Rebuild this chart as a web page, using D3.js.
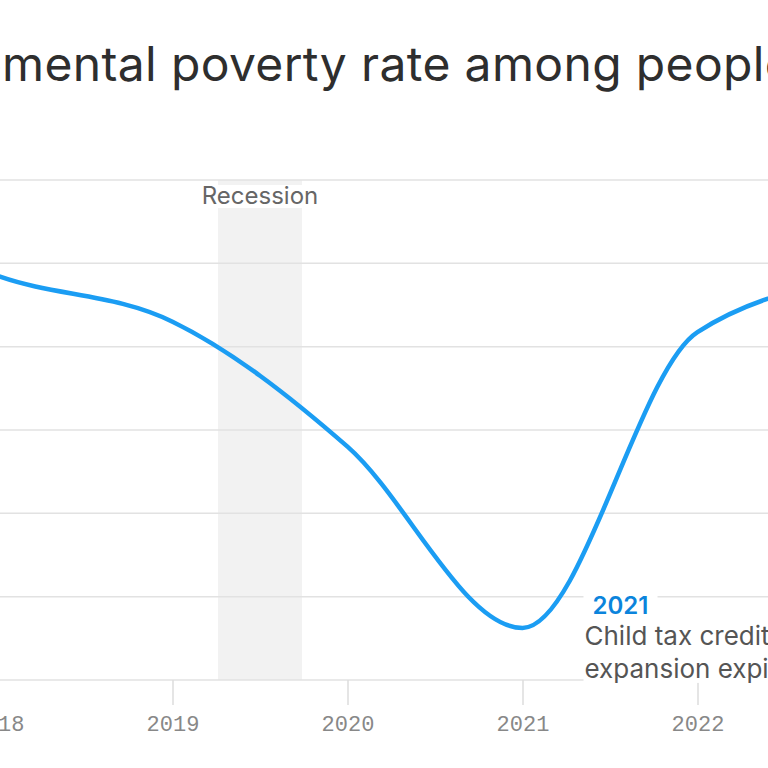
<!DOCTYPE html>
<html>
<head>
<meta charset="utf-8">
<script src="https://cdn.jsdelivr.net/npm/d3@7"></script>
<style>
    body { margin: 0; background: #fff; }
    svg { display: block; }
</style>
</head>
<body>
<script>
(function(){

    //chart data
    var years = [2017, 2018, 2019, 2020, 2021, 2022, 2023];
    var povertyRate = [15.6, 13.7, 12.6, 9.6, 5.25, 12.35, 13.7];
    var tickYears = [2018, 2019, 2020, 2021, 2022, 2023];
    var gridValues = [4, 6, 8, 10, 12, 14, 16];
    var recession = [2019.26, 2019.74];
    var titleText = "Supplemental poverty rate among people under 18";
    var noteYear = "2021";
    var noteLines = ["Child tax credit", "expansion expired"];

    var width = 768,
        height = 768;

    var svg = d3.select("body")
        .append("svg")
        .attr("width", width)
        .attr("height", height);

    //scales (the picture is a crop, so 2018 sits just off the left edge)
    var x = d3.scaleLinear()
        .domain([2018, 2023])
        .range([-2.5, 872.5]);

    var y = d3.scaleLinear()
        .domain([4, 16])
        .range([680, 180]);

    var sans = "Inter, Roboto, 'Liberation Sans', Arial, sans-serif";

    //title, squeezed a little and shifted so only the middle part shows
    var title = svg.append("text")
        .attr("y", 81)
        .attr("font-family", sans)
        .attr("font-size", 48)
        .attr("fill", "#2e2e2e")
        .text("mental poverty rate among");
    var baseW = title.node().getComputedTextLength();
    var spacing = (620 - baseW) / 25;
    title.attr("letter-spacing", spacing).text("Supple");
    var offset = title.node().getComputedTextLength();
    title.attr("x", 2 - offset).text(titleText);

    //recession band
    svg.append("rect")
        .attr("x", x(recession[0]))
        .attr("y", y(16))
        .attr("width", x(recession[1]) - x(recession[0]))
        .attr("height", y(4) - y(16))
        .attr("fill", "#f2f2f2");

    //gridlines
    svg.selectAll(".grid")
        .data(gridValues)
        .enter()
        .append("line")
        .attr("class", "grid")
        .attr("x1", 0)
        .attr("x2", width)
        .attr("y1", function(d){ return y(d); })
        .attr("y2", function(d){ return y(d); })
        .attr("stroke", "#e2e2e2")
        .attr("stroke-width", 1.5);

    //x axis
    var xAxis = d3.axisBottom(x)
        .tickValues(tickYears)
        .tickFormat(d3.format("d"))
        .tickSize(25)
        .tickPadding(26);

    var axisG = svg.append("g")
        .attr("transform", "translate(0," + y(4) + ")")
        .call(xAxis);
    axisG.select(".domain").remove();
    axisG.selectAll(".tick line")
        .attr("stroke", "#ddd")
        .attr("stroke-width", 1.5);
    axisG.selectAll(".tick text")
        .attr("font-family", "'Liberation Mono', 'DejaVu Sans Mono', monospace")
        .attr("font-size", 22)
        .attr("fill", "#888")
        .attr("dy", 0);

    //recession label with white backing
    var recG = svg.append("g");
    var recBack = recG.append("rect").attr("fill", "#fff");
    var recLabel = recG.append("text")
        .attr("x", (x(recession[0]) + x(recession[1])) / 2)
        .attr("y", 204)
        .attr("text-anchor", "middle")
        .attr("font-family", sans)
        .attr("font-size", 24)
        .attr("fill", "#666")
        .text("Recession");
    var rb = recLabel.node().getBBox();
    recBack
        .attr("x", rb.x - 3)
        .attr("y", 185)
        .attr("width", rb.width + 6)
        .attr("height", 23);

    //line
    var line = d3.line()
        .x(function(d, i){ return x(years[i]); })
        .y(function(d){ return y(d); })
        .curve(d3.curveMonotoneX);

    svg.append("path")
        .datum(povertyRate)
        .attr("d", line)
        .attr("fill", "none")
        .attr("stroke", "#1b9df3")
        .attr("stroke-width", 4.5);

    //annotation
    var nx = x(2021) + 70,
        ny = y(5.25);

    var noteG = svg.append("g");
    noteG.append("rect")
        .attr("x", nx - 9)
        .attr("y", ny - 35)
        .attr("width", 74)
        .attr("height", 24)
        .attr("fill", "#fff");
    noteG.append("rect")
        .attr("x", nx - 9)
        .attr("y", ny - 3)
        .attr("width", width)
        .attr("height", 58)
        .attr("fill", "#fff");
    noteG.append("text")
        .attr("x", nx)
        .attr("y", ny - 14)
        .attr("font-family", sans)
        .attr("font-size", 24)
        .attr("font-weight", 600)
        .attr("fill", "#0b84dc")
        .text(noteYear);
    noteG.selectAll(".note")
        .data(noteLines)
        .enter()
        .append("text")
        .attr("class", "note")
        .attr("x", nx - 8)
        .attr("y", function(d, i){ return ny + 17 + i * 33; })
        .attr("font-family", sans)
        .attr("font-size", 26)
        .attr("fill", "#555")
        .text(function(d){ return d; });

})();
</script>
</body>
</html>
